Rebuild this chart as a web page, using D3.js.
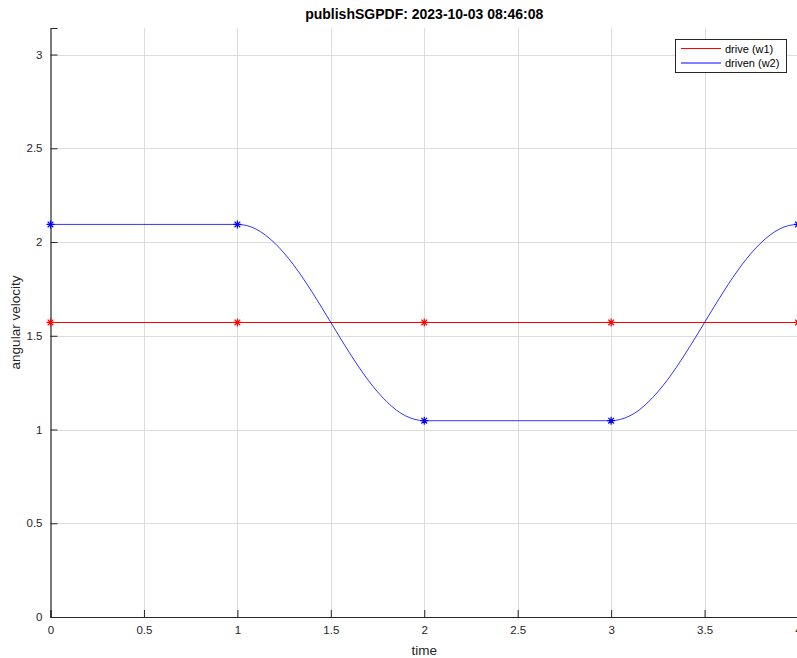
<!DOCTYPE html>
<html>
<head>
<meta charset="utf-8">
<script src="https://cdn.jsdelivr.net/npm/d3@7"></script>
<style>
  html, body { margin: 0; padding: 0; background: #fff; }
  svg { display: block; font-family: "Liberation Sans", Arial, Helvetica, sans-serif; }
</style>
</head>
<body>
<svg id="chart" width="797" height="658"></svg>
<script>
// ---- data ----
const titleText = "publishSGPDF: 2023-10-03 08:46:08";
const xLabel = "time";
const yLabel = "angular velocity";
const seriesNames = ["drive (w1)", "driven (w2)"];
const seriesColors = ["#ff0000", "#0000ff"];

const xTicks = [0, 0.5, 1, 1.5, 2, 2.5, 3, 3.5, 4];
const yTicks = [0, 0.5, 1, 1.5, 2, 2.5, 3];

// sampled curve (time)
const timeFine = [0, 0.5, 1.0, 1.05, 1.1, 1.15, 1.2, 1.25, 1.3, 1.35, 1.4, 1.45, 1.5,
                  1.55, 1.6, 1.65, 1.7, 1.75, 1.8, 1.85, 1.9, 1.95, 2.0, 2.5, 3.0,
                  3.05, 3.1, 3.15, 3.2, 3.25, 3.3, 3.35, 3.4, 3.45, 3.5,
                  3.55, 3.6, 3.65, 3.7, 3.75, 3.8, 3.85, 3.9, 3.95, 4.0];
// drive (w1) — constant
const driveFine = [1.571, 1.571, 1.571, 1.571, 1.571, 1.571, 1.571, 1.571, 1.571, 1.571, 1.571, 1.571, 1.571,
                   1.571, 1.571, 1.571, 1.571, 1.571, 1.571, 1.571, 1.571, 1.571, 1.571, 1.571, 1.571,
                   1.571, 1.571, 1.571, 1.571, 1.571, 1.571, 1.571, 1.571, 1.571, 1.571,
                   1.571, 1.571, 1.571, 1.571, 1.571, 1.571, 1.571, 1.571, 1.571, 1.571];
// driven (w2)
const drivenFine = [2.094, 2.094, 2.094, 2.088, 2.069, 2.037, 1.994, 1.941, 1.879, 1.809, 1.733, 1.653, 1.571,
                    1.489, 1.409, 1.333, 1.263, 1.201, 1.148, 1.104, 1.073, 1.054, 1.047, 1.047, 1.047,
                    1.054, 1.073, 1.104, 1.148, 1.201, 1.263, 1.333, 1.409, 1.489, 1.571,
                    1.653, 1.733, 1.809, 1.879, 1.941, 1.994, 2.037, 2.069, 2.088, 2.094];

// marker points
const markerTimes = [0, 1, 2, 3, 4];
const driveMarkers = [1.571, 1.571, 1.571, 1.571, 1.571];
const drivenMarkers = [2.094, 2.094, 1.047, 1.047, 2.094];

// ---- layout ----
const svg = d3.select("#chart");
const mLeft = 50.5, mRight = 798, mTop = 28, mBottom = 617;
const textColor = "#262626";

const x = d3.scaleLinear().domain([0, 4]).range([mLeft, mRight]);
const y = d3.scaleLinear().domain([0, Math.PI]).range([mBottom, mTop]);

// grid
const grid = svg.append("g");
grid.selectAll("line.gx").data(xTicks.filter(d => d > 0)).join("line")
  .attr("x1", d => Math.round(x(d)) + 0.5).attr("x2", d => Math.round(x(d)) + 0.5)
  .attr("y1", mTop).attr("y2", mBottom)
  .attr("stroke", "#dcdcdc").attr("stroke-width", 1);
grid.selectAll("line.gy").data(yTicks.filter(d => d > 0)).join("line")
  .attr("y1", d => Math.round(y(d)) + 0.5).attr("y2", d => Math.round(y(d)) + 0.5)
  .attr("x1", mLeft).attr("x2", mRight)
  .attr("stroke", "#dcdcdc").attr("stroke-width", 1);

// axes
const xAxis = d3.axisBottom(x).tickValues(xTicks).tickSize(-7).tickPadding(12)
  .tickFormat(d3.format("~g"));
const yAxis = d3.axisLeft(y).tickValues(yTicks).tickSize(-7).tickPadding(12)
  .tickFormat(d3.format("~g"));

const gx = svg.append("g").attr("transform", `translate(0,${mBottom})`).call(xAxis);
const gy = svg.append("g").attr("transform", `translate(${mLeft},0)`).call(yAxis);
[gx, gy].forEach(g => {
  g.select(".domain").attr("stroke", textColor).attr("stroke-width", 1.2);
  g.selectAll(".tick line").attr("stroke", textColor).attr("stroke-width", 1);
  g.selectAll(".tick text").attr("fill", textColor).attr("font-size", 11.5)
    .attr("font-family", "Liberation Sans, Arial, sans-serif");
});
gx.selectAll(".tick text").attr("dy", "0.71em").attr("y", 9);
gy.selectAll(".tick text").attr("x", -8);

// lines
const line = d3.line().x(d => x(d[0])).y(d => y(d[1])).curve(d3.curveMonotoneX);
svg.append("path").datum(timeFine.map((t, i) => [t, driveFine[i]]))
  .attr("d", line).attr("fill", "none").attr("stroke", seriesColors[0]).attr("stroke-width", 1.1);
svg.append("path").datum(timeFine.map((t, i) => [t, drivenFine[i]]))
  .attr("d", line).attr("fill", "none").attr("stroke", seriesColors[1]).attr("stroke-width", 1)
  .attr("stroke-opacity", 0.8);

// asterisk markers
function asterisk(r) {
  const d = r * Math.SQRT1_2;
  return `M${-r},0L${r},0M0,${-r}L0,${r}M${-d},${-d}L${d},${d}M${-d},${d}L${d},${-d}`;
}
[[driveMarkers, seriesColors[0]], [drivenMarkers, seriesColors[1]]].forEach(([vals, col]) => {
  svg.append("g").selectAll("path").data(markerTimes.map((t, i) => [t, vals[i]])).join("path")
    .attr("transform", d => `translate(${x(d[0])},${y(d[1])})`)
    .attr("d", asterisk(4)).attr("fill", "none").attr("stroke", col).attr("stroke-width", 1.2);
});

// title
svg.append("text").attr("x", (mLeft + mRight) / 2).attr("y", 19)
  .attr("text-anchor", "middle").attr("font-weight", "bold").attr("font-size", 14)
  .attr("fill", "#000").text(titleText);

// axis labels
svg.append("text").attr("x", (mLeft + mRight) / 2).attr("y", 655)
  .attr("text-anchor", "middle").attr("font-size", 13.5).attr("fill", textColor).text(xLabel);
svg.append("text").attr("transform", `translate(20,${(mTop + mBottom) / 2}) rotate(-90)`)
  .attr("text-anchor", "middle").attr("font-size", 13.5).attr("fill", textColor).text(yLabel);

// legend
const lg = svg.append("g");
lg.append("rect").attr("x", 675.5).attr("y", 39.5).attr("width", 111).attr("height", 33)
  .attr("fill", "#fff").attr("stroke", textColor).attr("stroke-width", 1);
seriesNames.forEach((name, i) => {
  const yy = 48.5 + i * 14.5;
  lg.append("line").attr("x1", 681).attr("x2", 721).attr("y1", yy).attr("y2", yy)
    .attr("stroke", seriesColors[i]).attr("stroke-width", 1.2);
  lg.append("text").attr("x", 725).attr("y", yy + 4).attr("font-size", 11)
    .attr("fill", "#000").text(name);
});
</script>
</body>
</html>
